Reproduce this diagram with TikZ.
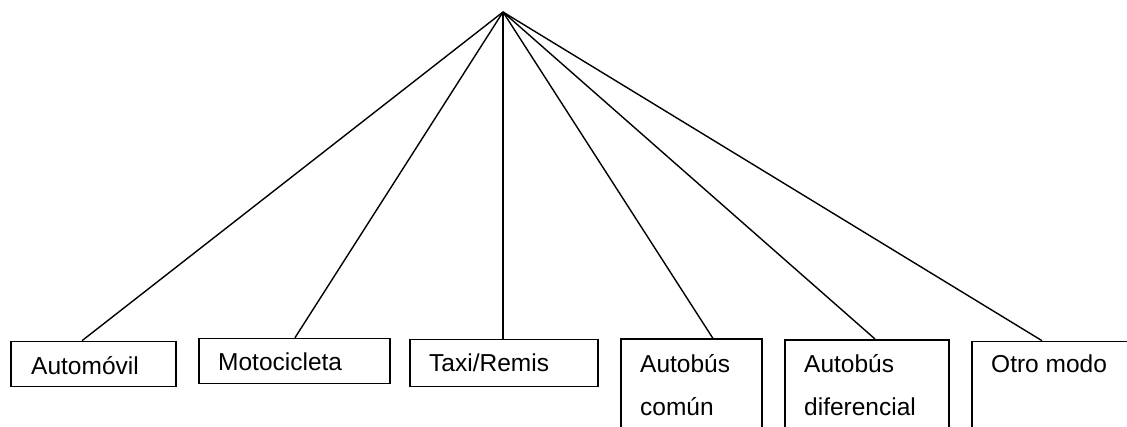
\documentclass[tikz,border=0pt]{standalone}
\usepackage{fontspec}
\setmainfont{Liberation Sans}
\usetikzlibrary{calc}
\tikzset{
  box/.style={draw=black, line width=1.8pt, rectangle, anchor=north west, inner sep=0pt},
  lbl/.style={anchor=base west, inner sep=0pt, font=\fontsize{24.5pt}{29pt}\selectfont},
  link/.style={draw=black, line width=1.4pt}
}
\begin{document}
\begin{tikzpicture}[x=1pt, y=-1pt]
\clip (0,0) rectangle (1127,427);
\fill[white] (0,0) rectangle (1127,427);
\coordinate (apex) at (503,12);
% boxes
\node[box, minimum width=165pt, minimum height=45pt] (b1) at (10,340.7) {};
\node[box, minimum width=191pt, minimum height=45pt] (b2) at (198,337.7) {};
\node[box, minimum width=188pt, minimum height=47pt] (b3) at (409,338.7) {};
\node[box, minimum width=141pt, minimum height=110pt] (b4) at (620,338.5) {};
\node[box, minimum width=164pt, minimum height=110pt] (b5) at (784,339) {};
\node[box, minimum width=180pt, minimum height=110pt] (b6) at (971,340.7) {};
% labels
\node[lbl] (t1) at (31,375) {Automóvil};
\node[lbl] (t2) at (218,370.5) {Motocicleta};
\node[lbl] (t3) at (429,372) {Taxi/Remis};
\node[lbl] (t4a) at (640,372.5) {Autobús};
\node[lbl] (t4b) at (640,415) {común};
\node[lbl] (t5a) at (804,372.5) {Autobús};
\node[lbl] (t5b) at (804,415) {diferencial};
\node[lbl] (t6) at (991,373) {Otro modo};
% attachment points on box tops
\coordinate (a1) at ($(b1.north west)+(72,0)$);
\coordinate (a2) at ($(b2.north west)+(97,0)$);
\coordinate (a3) at ($(b3.north west)+(94,0)$);
\coordinate (a4) at ($(b4.north west)+(93,0)$);
\coordinate (a5) at ($(b5.north west)+(91,0)$);
\coordinate (a6) at ($(b6.north west)+(71,0)$);
\foreach \i in {1,...,6} {\draw[link] (apex) -- (a\i);}
\end{tikzpicture}
\end{document}
